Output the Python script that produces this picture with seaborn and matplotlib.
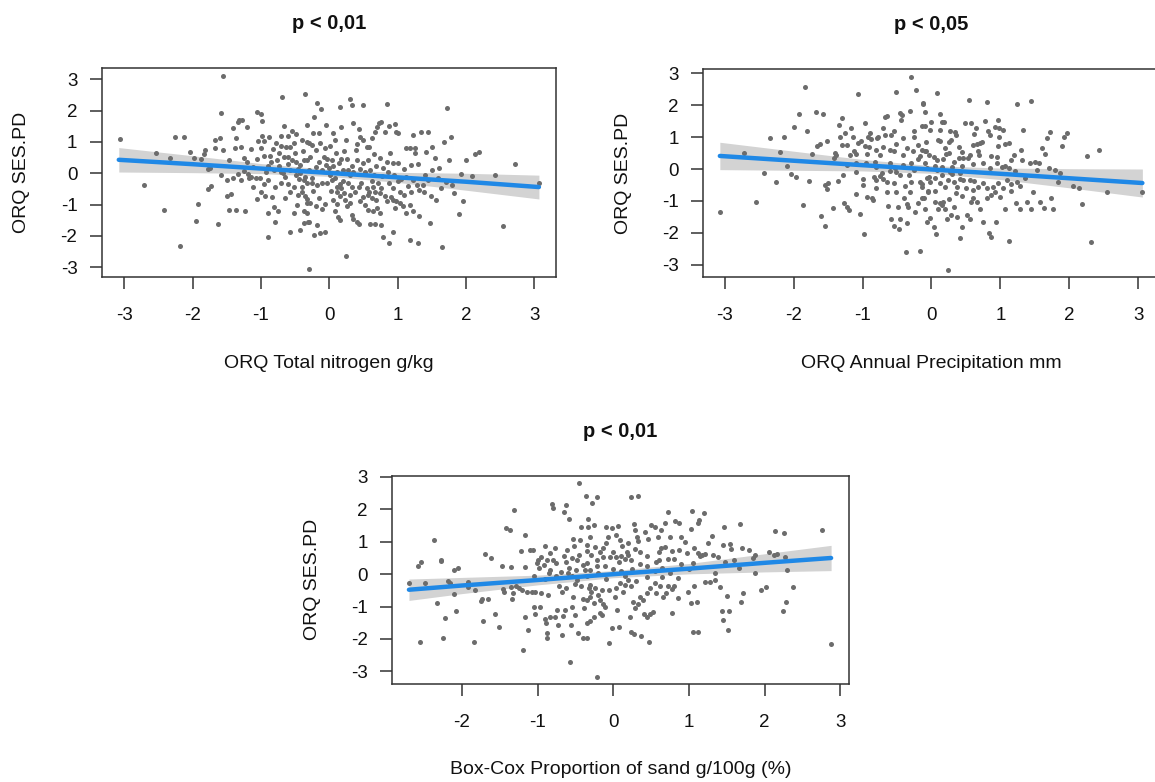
import matplotlib
matplotlib.use("Agg")
import matplotlib.pyplot as plt
import seaborn as sns
import pandas as pd

# ---------------- data ----------------
# Panel 1: ORQ Total nitrogen g/kg vs ORQ SES.PD
nitrogen_pts = [
    (-3.06, 1.09), (-2.71, -0.36), (-2.54, 0.66), (-2.42, -1.18), (-2.33, 0.49), (-2.26, 1.17),
    (-2.19, -2.33), (-2.13, 1.17), (-2.04, 0.68), (-1.98, 0.49), (-1.95, -1.53), (-1.92, -0.97),
    (-1.87, 0.45), (-1.83, 0.62), (-1.82, 0.74), (-1.78, -0.50), (-1.73, -0.40), (-1.77, 0.14),
    (-1.74, 0.16), (-1.67, 1.06), (-1.67, 0.82), (-1.63, -1.61), (-1.60, 1.13), (-1.59, 1.91),
    (-1.55, 3.11), (-1.58, -0.05), (-1.55, 0.73), (-1.50, -0.71), (-1.49, -0.21), (-1.46, -1.18),
    (-1.44, -0.65), (-1.47, 0.43), (-1.41, 1.43), (-1.38, 0.80), (-1.37, -1.18), (-1.34, 1.65),
    (-1.32, 1.70), (-1.27, 1.70), (-1.37, 1.14), (-1.29, 0.83), (-1.25, 0.50), (-1.23, -1.19),
    (-1.21, 1.47), (-1.19, -0.03), (-1.25, 0.07), (-1.17, -0.16), (-1.15, 0.77), (-1.14, -0.11),
    (-1.12, 0.21), (-1.07, -0.16), (-1.06, 1.95), (-1.05, -0.83), (-1.04, 1.03), (-1.02, -0.16),
    (-1.00, 1.88), (-0.99, 1.20), (-1.00, 0.80), (-0.98, 1.67), (-0.95, 1.02), (-0.92, 0.04),
    (-0.94, -0.72), (-0.90, -0.21), (-0.90, -2.04), (-0.89, -1.28), (-0.95, 0.55), (-0.88, 1.17),
    (-0.87, 0.56), (-0.83, -0.77), (-0.82, 0.77), (-0.81, -1.07), (-0.79, -1.55), (-0.78, 0.98),
    (-0.77, 0.43), (-0.75, -1.22), (-0.74, 0.66), (-0.71, 1.19), (-0.70, 0.88), (-0.69, 2.45),
    (-0.66, 0.53), (-0.66, 1.51), (-0.65, -0.13), (-0.63, 0.83), (-0.61, 1.20), (-0.60, 0.53),
    (-0.60, -0.34), (-0.58, -1.89), (-0.57, 0.85), (-0.55, 0.43), (-0.54, 1.35), (-0.52, 0.98),
    (-0.52, -0.43), (-0.49, 1.26), (-0.48, 0.37), (-0.47, -1.01), (-0.45, -0.69), (-0.44, -0.17),
    (-0.42, 0.27), (-0.40, 1.06), (-0.38, 0.72), (-0.36, 2.52), (-0.35, -0.13), (-0.33, -0.83),
    (-0.31, -1.57), (-0.30, -3.06), (-0.32, 0.43), (-0.30, 0.96),
    (-0.90, 0.23), (-0.81, 0.11), (-0.74, 0.23), (-0.67, 0.00), (-0.57, 0.11), (-0.49, -0.05),
    (-0.42, 0.00), (-0.37, -0.21), (-0.30, 0.11), (-0.71, -0.32), (-0.57, -0.59), (-0.40, -0.59),
    (-0.32, -0.96), (-0.52, -1.28), (-0.37, -1.22), (-0.42, -1.81), (-1.00, -0.59), (-1.12, -0.43),
    (-1.29, -0.21), (-1.34, -0.02), (-1.41, -0.16),
    (-0.18, 2.23), (-0.12, 2.04), (-0.22, 1.81), (-0.23, 1.30), (-0.33, 1.54), (-0.32, 1.01),
    (-0.19, 0.74), (-0.28, 0.53), (-0.37, 0.43), (-0.15, 0.37), (-0.08, 0.53), (-0.03, 0.45),
    (0.04, 0.43), (0.06, 0.23), (0.14, 0.32), (0.18, 0.45), (0.26, 0.47), (0.33, 0.23),
    (0.16, 2.13), (0.30, 2.36), (0.34, 2.18), (0.50, 2.18), (0.85, 2.20), (1.72, 2.07),
    (0.18, 1.49), (0.06, 1.28), (0.22, 0.72), (0.39, 0.74), (0.43, 1.40), (0.45, 1.15),
    (0.50, 1.06), (0.59, 0.83), (0.62, 1.12), (0.67, 1.33), (0.73, 1.62), (0.76, 1.65),
    (0.70, 1.49), (0.81, 1.33), (0.88, 1.51), (0.96, 1.57), (0.98, 1.32), (1.01, 1.30),
    (0.89, 0.64), (0.85, 0.37), (0.93, 0.34), (1.00, 0.32), (1.13, 0.80), (1.18, 0.80),
    (1.25, 0.80), (1.22, 1.22), (1.35, 1.33), (1.44, 1.33), (1.25, 0.66), (1.42, 0.69),
    (1.50, 0.83), (1.55, 0.48), (1.51, 0.11), (1.61, 0.16), (1.68, 1.01), (1.78, 1.17),
    (1.76, 0.43), (1.93, -0.02), (2.00, 0.43), (2.09, -0.09), (2.14, 0.61), (2.20, 0.67),
    (2.43, -0.07), (2.72, 0.28), (3.07, -0.30),
    (-0.40, -0.43), (-0.32, -0.32), (-0.25, -0.16), (-0.23, -0.55), (-0.18, -0.37), (-0.35, -0.74),
    (-0.28, -0.94), (-0.20, -1.06), (-0.15, -0.80), (-0.11, -1.15), (-0.06, -0.98), (-0.32, -1.28),
    (-0.37, -1.60), (-0.29, -1.54), (-0.22, -1.97), (-0.13, -1.91), (-0.06, -1.86), (-0.18, -1.65),
    (-0.03, -0.32), (0.01, -0.05), (0.04, -0.21), (0.09, -0.16), (0.11, -0.43), (0.16, -0.34),
    (0.18, -0.48), (0.21, -0.64), (0.06, -0.85), (0.11, -0.98), (0.16, -0.74), (0.23, -0.85),
    (0.26, -1.06), (0.30, -0.96), (0.09, -1.22), (0.13, -1.38), (0.16, -1.49), (0.33, -1.33),
    (0.35, -1.47), (0.40, -1.57), (0.43, -1.62), (0.25, -2.64), (0.28, -0.32), (0.33, -0.43),
    (0.38, -0.59), (0.43, -0.43), (0.47, -0.32), (0.55, -0.48), (0.59, -0.59), (0.64, -0.43),
    (0.67, -0.59), (0.72, -0.32), (0.74, -0.64), (0.76, -0.48), (0.50, -0.77), (0.57, -0.69),
    (0.63, -0.80), (0.69, -0.85), (0.81, -0.74), (0.84, -0.90), (0.91, -0.77), (0.93, -0.85),
    (0.98, -0.90), (1.03, -0.96), (0.79, -2.04), (0.88, -2.23), (0.93, -1.89), (1.18, -2.13),
    (1.30, -2.21), (1.65, -2.36), (0.60, -1.62), (0.67, -1.62), (0.76, -1.65), (0.57, -1.17),
    (0.64, -1.22), (0.74, -1.28), (0.96, -1.12), (1.08, -1.06), (1.18, -1.01), (1.13, -1.28),
    (1.22, -1.19), (1.32, -1.36), (1.05, -0.19), (1.12, -0.13), (1.15, -0.40), (1.22, -0.23),
    (1.28, -0.37), (1.32, -0.53), (1.37, -0.37), (1.39, -0.59), (1.44, -0.21), (1.49, -0.74),
    (1.56, -0.85), (1.47, -1.60), (1.64, -0.48), (1.71, -0.27), (1.80, -0.37), (1.83, -0.64),
    (1.90, -1.30), (1.96, -0.90), (2.54, -1.68), (1.03, -0.61), (0.93, -0.48),
    (-0.13, 0.96), (-0.06, 0.80), (0.01, 0.87), (0.09, 1.06), (-0.01, 0.16), (-0.11, 0.11),
    (0.11, 0.05), (0.30, -0.05), (0.40, 0.43), (0.50, 0.32), (0.57, 0.43), (0.69, 0.23),
    (0.74, 0.48), (0.79, 0.16),
    (0.20, 0.10), (0.27, 0.12), (0.35, 0.05), (0.45, 0.15), (0.52, 0.05), (0.60, 0.12),
    (0.66, -0.05), (0.78, -0.10), (0.86, 0.05), (0.95, -0.05), (1.10, 0.15), (1.20, 0.25),
    (0.12, -0.60), (0.20, -0.25), (0.30, -0.70), (0.45, -0.90), (0.52, -1.00), (0.62, -0.25),
    (0.70, -1.10), (0.88, -0.30), (1.00, -0.25), (1.10, -0.70), (1.20, -0.60), (-0.10, -0.30),
    (-0.20, 0.20), (-0.05, 0.25), (0.02, -0.55), (-0.25, -0.30), (-0.45, 0.15), (-0.60, 0.30),
    (-0.80, -0.45), (-0.85, 0.35), (-1.05, 0.45), (-0.70, 0.05), (-0.15, 1.30), (0.25, 1.05),
    (0.40, 0.95), (0.55, 0.85), (-0.05, 1.55), (0.35, 1.60), (-0.50, 0.65), (-0.25, 0.90),
    (0.10, 0.65), (0.65, 0.60), (1.30, 0.30), (1.40, -0.05), (1.60, -0.15), (-1.20, 0.35),
    (-0.95, -0.35), (-0.65, -0.80),
]
# regression line and 95% band
nitrogen_fit_x = [-3.08, -2.0, -1.0, 0.0, 1.0, 2.0, 3.07]
nitrogen_fit_y = [0.43, 0.29, 0.15, 0.01, -0.13, -0.27, -0.44]
nitrogen_band = [0.39, 0.27, 0.16, 0.11, 0.16, 0.27, 0.38]

# Panel 2: ORQ Annual Precipitation mm vs ORQ SES.PD
precip_pts = [
    (-3.07, -1.34), (-2.72, 0.51), (-2.55, -1.03), (-2.43, -0.12), (-2.34, 0.96), (-2.26, -0.42),
    (-2.19, 0.52), (-2.14, 1.01), (-2.09, 0.10), (-2.04, -0.15), (-2.00, 1.32), (-1.96, -0.26),
    (-1.92, 1.73), (-1.86, -1.14), (-1.84, 2.58), (-1.80, 1.19), (-1.77, -0.38), (-1.73, 0.48),
    (-1.68, 1.78), (-1.66, 0.73), (-1.62, 0.79), (-1.60, -1.46), (-1.57, 1.74), (-1.55, -1.78),
    (-1.52, -0.64), (-1.55, -0.49), (-1.50, -0.45), (-1.51, 0.88), (-1.43, -1.23), (-1.40, 0.50),
    (-1.38, 0.44), (-1.41, 0.34), (-1.36, -0.37), (-1.34, 1.39), (-1.30, 1.60), (-1.32, 0.99),
    (-1.29, -0.19), (-1.27, -1.07), (-1.23, -1.19), (-1.19, -1.30), (-1.25, 1.14), (-1.22, 0.75),
    (-1.18, 0.44), (-1.16, 1.28), (-1.14, 1.02), (-1.12, 0.55), (-1.09, 0.46), (-1.10, -0.77),
    (-1.06, 0.81), (-1.06, 2.36), (-1.03, -1.42), (-1.02, 0.88), (-0.98, -2.05), (-0.99, -0.50),
    (-0.96, 1.44), (-0.97, 0.73), (-0.94, 0.48), (-0.94, -0.87), (-0.92, 1.02), (-0.89, 1.12),
    (-0.87, 0.94), (-0.86, -0.90), (-0.85, -0.97), (-0.83, -0.24), (-0.81, -0.35), (-0.81, 0.59),
    (-0.79, 0.96), (-0.77, 1.01), (-0.75, -0.21), (-0.75, 0.44), (-0.72, -0.13), (-0.70, -0.31),
    (-0.68, 1.07), (-0.68, 1.64), (-0.65, 1.67), (-0.64, -0.73), (-0.63, -1.15), (-0.60, 0.60),
    (-0.59, -1.57), (-0.58, 1.07), (-0.55, -1.78), (-0.54, 1.19), (-0.53, 0.04), (-0.52, 2.43),
    (-0.52, -0.10), (-0.51, 0.78), (-0.48, -1.18), (-0.47, -1.87), (-0.46, -1.57), (-0.45, 1.77),
    (-0.43, 1.70), (-0.44, 1.54), (-0.41, 0.96), (-0.41, 0.44), (-0.38, -0.52), (-0.37, -2.60),
    (-0.36, -1.71), (-0.35, -1.09), (-0.34, -1.18), (-0.33, -0.19), (-0.31, 1.82), (-0.29, 2.90),
    (-0.27, 0.57), (-0.26, 0.99), (-0.24, -1.34), (-0.22, 2.48), (-0.20, -1.06), (-0.17, -2.58),
    (-0.17, 0.42), (-0.14, -0.92), (-0.13, -0.48), (-0.12, 2.03), (-0.09, 1.36), (-0.08, 0.57),
    (-0.07, 0.02), (-0.06, -1.66), (-0.05, -0.69), (-0.03, -0.24), (-0.82, 0.23), (-1.09, 0.18),
    (-1.23, 0.13), (-0.60, 0.18), (-0.41, 0.13), (-0.26, -0.03), (-0.80, -0.61), (-0.65, -0.40),
    (-0.51, -0.71), (-0.31, -0.71), (-0.17, -0.40),
    (0.08, 2.39), (-0.12, 2.06), (-0.09, 1.78), (0.13, 1.74), (-0.14, 1.36), (0.00, 1.49),
    (0.15, 1.49), (0.18, 1.47), (0.12, 1.23), (-0.02, 1.23), (0.10, 0.91), (0.12, 0.88),
    (-0.08, 0.84), (-0.13, 0.60), (-0.09, 0.55), (-0.03, 0.44), (0.03, 0.39), (0.08, 0.27),
    (0.17, 0.31), (0.21, 0.46), (0.26, 0.49), (0.26, 0.84), (0.29, 0.91), (0.27, 1.19),
    (0.34, 1.15), (0.36, 1.07), (0.32, 0.21), (0.40, 0.34), (0.46, 0.34), (0.44, 0.52),
    (0.48, 1.46), (0.55, 2.16), (0.58, 1.44), (0.62, 1.10), (0.61, 0.75), (0.66, 0.78),
    (0.70, 0.81), (0.74, 0.84), (0.67, 0.55), (0.69, 0.44), (0.56, 0.44), (0.53, 0.34),
    (0.80, 2.09), (0.78, 1.51), (0.82, 1.19), (0.85, 1.07), (0.92, 1.33), (0.96, 1.54),
    (0.98, 1.30), (0.98, 1.01), (1.04, 1.24), (0.97, 0.73), (1.07, 0.78), (1.12, 0.81),
    (0.87, 0.42), (0.95, 0.39), (0.85, 0.02), (1.02, 0.07), (1.07, 0.10), (1.13, 0.04),
    (1.21, -0.05), (1.15, 0.28), (1.24, 2.03), (1.33, 1.23), (1.44, 2.12), (1.32, 0.28),
    (1.43, 0.18), (1.50, 0.21), (1.56, 0.18), (1.61, 0.67), (1.65, 0.46), (1.68, 0.96),
    (1.72, 1.17), (1.53, -0.03), (1.70, 0.04), (1.79, -0.03), (1.86, -0.14), (1.83, -0.40),
    (1.89, 0.73), (1.92, 0.99), (1.96, 1.12), (2.06, -0.52), (2.14, -0.61), (2.19, -1.11),
    (2.25, 0.42), (2.32, -2.29), (2.43, 0.60), (2.54, -0.71), (3.06, -0.71), (0.24, -3.16),
    (-0.14, -0.56), (-0.07, -0.29), (-0.11, -0.92), (-0.05, -0.71), (-0.09, -1.24), (-0.02, -1.55),
    (0.03, -1.81), (0.07, -2.05), (0.05, -1.03), (0.10, -1.26), (0.12, -1.08), (0.15, -1.13),
    (0.17, -1.03), (0.20, -1.24), (0.22, -1.58), (0.29, -1.45), (0.32, -1.18), (0.37, -1.50),
    (0.42, -2.18), (0.45, -1.81), (0.52, -1.45), (0.56, -1.57), (0.58, -1.03), (0.61, -0.66),
    (0.66, -1.03), (0.70, -1.26), (0.75, -1.66), (0.84, -2.02), (0.86, -2.13), (0.94, -1.66),
    (0.80, -0.92), (0.87, -0.82), (0.92, -0.71), (0.99, -0.87), (1.07, -1.24), (1.12, -2.26),
    (1.23, -1.08), (1.29, -1.24), (1.39, -1.03), (1.45, -1.26), (1.48, -0.73), (1.58, -1.05),
    (1.63, -1.22), (1.74, -0.92), (1.77, -1.26), (-0.02, -0.40), (0.05, -0.29), (0.12, -0.45),
    (0.20, -0.56), (0.24, -0.35), (0.32, -0.40), (0.37, -0.56), (0.41, -0.31), (0.46, -0.35),
    (0.50, -0.59), (0.56, -0.35), (0.62, -0.38), (0.68, -0.56), (0.75, -0.45), (0.80, -0.61),
    (0.90, -0.56), (0.97, -0.45), (1.04, -0.61), (1.10, -0.35), (1.16, -0.48), (1.24, -0.40),
    (1.28, -0.52), (1.36, -0.29), (0.08, -0.03), (0.27, -0.08), (0.41, -0.14),
    (-0.30, 0.20), (-0.20, 0.30), (-0.45, -0.20), (-0.60, -0.05), (-0.80, 0.05), (-0.95, 0.20),
    (-1.00, -0.30), (-0.70, 0.70), (-0.90, 0.70), (-0.55, 0.55), (-0.35, 0.65), (-0.20, 0.75),
    (-0.10, 0.20), (0.05, 0.10), (0.15, 0.05), (0.30, 0.05), (0.45, 0.10), (0.60, 0.15),
    (0.75, 0.20), (0.20, 0.65), (0.40, 0.70), (0.15, -0.20), (0.30, -0.15), (0.45, -0.85),
    (0.60, -0.90), (0.35, -0.75), (0.25, -0.95), (0.05, -0.70), (-0.30, -0.40), (-0.40, -0.90),
    (-0.55, -0.45), (-1.10, -0.10), (-1.30, 0.75), (-0.70, 1.30), (-0.25, 1.20), (0.65, 1.30),
    (1.15, -0.70), (1.30, 0.60), (0.95, 0.20), (1.20, 0.45),
]
precip_fit_x = [-3.07, -2.0, -1.0, 0.0, 1.0, 2.0, 3.06]
precip_fit_y = [0.41, 0.26, 0.12, -0.015, -0.15, -0.29, -0.44]
precip_band = [0.43, 0.30, 0.18, 0.12, 0.18, 0.30, 0.44]

# Panel 3: Box-Cox Proportion of sand g/100g (%) vs ORQ SES.PD
sand_pts = [
    (-2.70, -0.26), (-2.58, 0.26), (-2.55, -2.08), (-2.54, 0.39), (-2.49, -0.28), (-2.37, 1.06),
    (-2.33, -0.90), (-2.28, 0.44), (-2.27, 0.41), (-2.25, -1.98), (-2.22, -1.36), (-2.19, -0.20),
    (-2.16, -0.26), (-2.11, 0.13), (-2.11, -0.61), (-2.08, -1.15), (-2.05, 0.20), (-1.92, -0.25),
    (-1.92, -0.40), (-1.84, -2.08), (-1.83, -0.50), (-1.75, -0.84), (-1.74, -0.77), (-1.72, -1.46),
    (-1.70, 0.62), (-1.65, -0.77), (-1.61, 0.49), (-1.56, -1.23), (-1.51, -1.64), (-1.47, 0.26),
    (-1.46, -0.46), (-1.44, -0.54), (-1.42, 1.42), (-1.36, 1.37), (-1.35, 0.21), (-1.35, -0.40),
    (-1.34, -0.77), (-1.31, 1.98), (-1.32, -0.59), (-1.29, -0.38), (-1.25, -0.44), (-1.22, 0.72),
    (-1.21, -0.48), (-1.19, -2.34), (-1.17, 1.21), (-1.17, 0.21), (-1.17, -1.33), (-1.14, -0.54),
    (-1.13, -1.72), (-1.10, 0.75), (-1.06, 0.75), (-1.08, -0.54), (-1.05, -1.02), (-1.03, -1.23),
    (-1.03, -0.54), (-1.01, 0.36), (-1.00, 0.44), (-0.98, 0.18), (-0.97, -1.00), (-0.95, 0.52),
    (-0.95, -0.59), (-0.92, 0.28), (-0.90, 0.87), (-0.90, -1.39), (-0.89, -1.50), (-0.88, 0.44),
    (-0.87, -1.81), (-0.87, -1.98), (-0.86, -0.64), (-0.84, 0.65), (-0.83, 0.13), (-0.83, -1.31),
    (-0.81, 2.17), (-0.80, 2.05), (-0.79, 0.44), (-0.77, -1.31), (-0.77, 0.80), (-0.76, 0.34),
    (-0.74, -1.10), (-0.73, -1.56), (-0.71, -0.36), (-0.69, 0.08), (-0.68, -1.87), (-0.67, -1.29),
    (-0.65, 1.93), (-0.64, -1.10), (-0.62, 2.14), (-0.62, 0.39), (-0.61, 0.75), (-0.58, 0.18),
    (-0.59, 1.70), (-0.57, -2.70), (-0.56, -1.56), (-0.55, 0.49), (-0.54, -0.07), (-0.53, -0.69),
    (-0.53, 1.09), (-0.52, 0.87), (-0.51, -1.26), (-0.49, 0.13), (-0.48, 0.44), (-0.46, -1.82),
    (-0.45, 2.81), (-0.44, 1.06), (-0.43, -0.38), (-0.42, 1.47), (-0.40, -0.77), (-0.40, -1.98),
    (-0.39, -1.05), (-0.37, 0.13), (-0.36, 2.41), (-0.35, -1.51), (-0.34, 0.73), (-0.33, 1.70),
    (-0.32, -0.44), (-0.31, -0.69), (-0.68, -0.54), (-0.62, -0.44), (-0.48, -0.18), (-0.34, -0.79),
    (-0.40, 0.29),
    (-0.22, 2.37), (-0.28, 2.19), (0.23, 2.37), (0.33, 2.42), (-0.21, -3.16), (-0.33, 1.47),
    (-0.26, 1.52), (-0.31, 1.14), (-0.35, 0.90), (-0.24, 0.85), (-0.17, 0.67), (-0.13, 0.80),
    (-0.29, 0.59), (-0.22, 0.44), (-0.13, 0.52), (-0.11, 0.24), (-0.21, 0.26), (-0.31, 0.13),
    (-0.04, 0.52), (-0.01, 1.42), (0.06, 1.49), (-0.09, 1.47), (-0.07, 1.14), (0.04, 1.21),
    (0.09, 1.04), (0.12, 0.87), (0.00, 0.70), (0.04, 0.54), (0.07, 0.39), (0.10, 0.56),
    (0.15, 0.46), (0.18, 0.70), (0.20, 0.59), (0.24, 0.44), (0.28, 1.55), (0.29, 1.37),
    (0.31, 1.16), (0.33, 1.01), (0.29, 0.77), (0.35, 0.67), (0.42, 1.31), (0.46, 1.08),
    (0.50, 1.52), (0.55, 1.47), (0.59, 1.14), (0.63, 1.37), (0.68, 1.59), (0.73, 1.93),
    (0.75, 1.16), (0.63, 0.80), (0.68, 0.85), (0.57, 0.39), (0.60, 0.44), (0.72, 0.46),
    (0.78, 0.73), (0.81, 0.46), (0.82, 1.65), (0.87, 1.57), (0.90, 1.16), (0.87, 0.75),
    (0.97, 0.65), (1.03, 1.39), (1.04, 1.96), (1.12, 1.57), (1.14, 1.67), (1.20, 1.90),
    (1.07, 0.80), (1.12, 0.65), (1.15, 0.56), (1.18, 0.59), (1.21, 0.62), (1.31, 1.18),
    (1.32, 0.59), (1.39, 0.54), (1.47, 1.47), (1.45, 0.90), (1.54, 0.93), (1.56, 0.77),
    (1.67, 1.55), (1.70, 0.80), (1.79, 0.75), (1.88, 0.59), (1.85, 0.49), (2.06, 0.67),
    (2.12, 0.59), (2.16, 0.62), (2.14, 1.32), (2.26, 1.26), (2.27, 0.54), (2.76, 1.35),
    (2.88, -2.15), (1.87, 0.03), (1.66, 0.18), (1.48, 0.39),
    (-0.35, -0.07), (-0.31, -0.33), (-0.24, -0.43), (-0.29, -0.54), (-0.20, -0.64), (-0.15, -0.48),
    (-0.17, -0.79), (-0.13, -0.92), (-0.11, -1.00), (-0.17, -1.21), (-0.26, -1.31), (-0.31, -1.46),
    (-0.35, -1.98), (-0.06, -0.48), (-0.06, -2.13), (-0.02, -1.67), (0.07, -1.62), (0.02, -0.69),
    (0.04, -0.43), (0.09, -0.28), (0.13, -0.54), (0.16, -0.33), (0.20, -0.18), (0.24, -0.38),
    (0.26, -0.85), (0.29, -1.05), (0.33, -0.92), (0.35, -0.69), (0.22, -1.31), (0.24, -1.77),
    (0.28, -1.84), (0.37, -1.92), (0.47, -2.09), (0.41, -1.23), (0.44, -1.31), (0.48, -1.23),
    (0.53, -1.18), (0.44, -0.59), (0.48, -0.43), (0.55, -0.28), (0.57, -0.59), (0.62, -0.38),
    (0.66, -0.69), (0.70, -0.59), (0.73, -0.36), (0.78, -0.46), (0.81, -0.38), (0.78, -1.21),
    (0.85, -0.13), (0.99, -0.54), (1.03, -0.90), (1.11, -0.85), (1.07, -0.36), (1.06, -1.80),
    (1.12, -1.80), (1.21, -0.23), (1.28, -0.23), (1.34, -0.18), (1.41, -0.40), (1.51, -0.67),
    (1.44, -1.15), (1.53, -1.15), (1.45, -1.41), (1.52, -1.72), (1.69, -0.85), (1.72, -0.59),
    (1.96, -0.48), (2.02, -0.40), (2.25, -1.15), (2.28, -0.85), (2.30, 0.13), (2.37, -0.41),
    (-0.20, 0.05), (-0.10, -0.15), (0.00, 0.15), (0.10, 0.10), (0.25, 0.15), (0.35, 0.30),
    (0.45, 0.25), (0.55, 0.10), (0.65, 0.20), (0.75, 0.05), (0.90, 0.30), (1.00, 0.15),
    (0.15, -0.05), (0.30, -0.20), (0.45, -0.10), (0.65, -0.10), (-0.50, -0.30), (-0.60, 0.05),
    (-0.75, -0.05), (-0.90, -0.15), (-1.05, -0.05), (-0.45, 0.60), (-0.65, 0.55), (-0.85, 0.05),
    (-0.25, -0.90), (-0.15, -1.25), (0.05, -1.10), (0.40, -0.80), (0.60, 0.70), (0.95, 1.00),
    (1.05, 0.35), (1.25, 0.95), (-0.10, 0.95), (0.20, 0.95), (0.45, 0.55), (-0.35, 0.35),
    (1.35, 0.05), (1.60, 0.45), (0.85, -0.75), (-0.55, -1.00),
]
sand_fit_x = [-2.70, -2.0, -1.0, 0.0, 1.0, 2.0, 2.88]
sand_fit_y = [-0.48, -0.35, -0.18, 0.00, 0.17, 0.35, 0.50]
sand_band = [0.33, 0.25, 0.15, 0.11, 0.16, 0.28, 0.39]

titles = ["p < 0,01", "p < 0,05", "p < 0,01"]
xlabels = ["ORQ Total nitrogen g/kg", "ORQ Annual Precipitation mm",
           "Box-Cox Proportion of sand g/100g (%)"]
ylabel = "ORQ SES.PD"
x_ticks = [[-3, -2, -1, 0, 1, 2, 3], [-3, -2, -1, 0, 1, 2, 3], [-2, -1, 0, 1, 2, 3]]
y_ticks = [-3, -2, -1, 0, 1, 2, 3]

# ---------------- style ----------------
sns.set_theme(style="white")
plt.rcParams["font.family"] = ["Liberation Sans", "DejaVu Sans"]

W, H = 1155, 782
fig = plt.figure(figsize=(W / 100, H / 100), dpi=100)

def box(l, t, r, b):
    return [l / W, 1 - b / H, (r - l) / W, (b - t) / H]

panels = [
    dict(pts=nitrogen_pts, fx=nitrogen_fit_x, fy=nitrogen_fit_y, band=nitrogen_band,
         rect=box(101.7, 68.3, 556.0, 277.3), xlim=(-3.33, 3.32), ylim=(-3.32, 3.35)),
    dict(pts=precip_pts, fx=precip_fit_x, fy=precip_fit_y, band=precip_band,
         rect=box(703.3, 69.0, 1159.6, 277.3), xlim=(-3.31, 3.31), ylim=(-3.40, 3.14)),
    dict(pts=sand_pts, fx=sand_fit_x, fy=sand_fit_y, band=sand_band,
         rect=box(392.3, 475.7, 848.5, 684.0), xlim=(-2.92, 3.11), ylim=(-3.39, 3.04)),
]

POINT = "#6c6c6c"
LINE = "#1f88e6"
BAND = "#d3d3d3"
FRAME = "#333333"
TEXT = "#111111"

for i, p in enumerate(panels):
    ax = fig.add_axes(p["rect"])
    df = pd.DataFrame(p["pts"], columns=["x", "y"])
    fit = pd.DataFrame({"x": p["fx"], "y": p["fy"], "h": p["band"]})
    ax.fill_between(fit["x"], fit["y"] - fit["h"], fit["y"] + fit["h"],
                    color=BAND, linewidth=0, zorder=1)
    sns.scatterplot(data=df, x="x", y="y", ax=ax, color=POINT, s=13,
                    linewidth=0, zorder=2, legend=False)
    sns.lineplot(data=fit, x="x", y="y", ax=ax, color=LINE, linewidth=3.2,
                 zorder=3, legend=False, estimator=None, sort=False)
    ax.set_xlim(*p["xlim"])
    ax.set_ylim(*p["ylim"])
    ax.set_xticks(x_ticks[i])
    ax.set_yticks(y_ticks)
    ax.set_xticklabels([str(v) for v in x_ticks[i]])
    ax.set_yticklabels([str(v) for v in y_ticks])
    ax.tick_params(axis="both", which="major", bottom=True, left=True,
                   top=False, right=False, direction="out", length=8.5, width=1.1,
                   color=FRAME, labelsize=13.5, labelcolor=TEXT)
    ax.tick_params(axis="x", pad=13)
    ax.tick_params(axis="y", pad=9)
    for sp in ax.spines.values():
        sp.set_visible(True)
        sp.set_color(FRAME)
        sp.set_linewidth(1.1)
    ax.set_xlabel(xlabels[i], fontsize=14, labelpad=22, color=TEXT)
    ax.set_ylabel(ylabel, fontsize=14, labelpad=22, color=TEXT)
    ax.set_title(titles[i], fontsize=14.5, fontweight="bold", pad=28, color=TEXT)
    ax.grid(False)

fig.savefig("out.png", dpi=100, facecolor="white")
